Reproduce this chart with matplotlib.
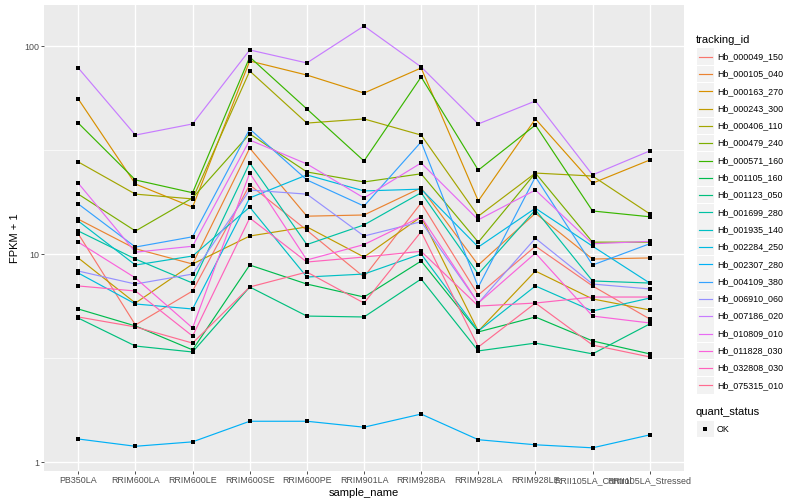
import matplotlib
matplotlib.use("Agg")
import matplotlib.pyplot as plt
from matplotlib.lines import Line2D
from matplotlib.patches import Rectangle
from matplotlib.ticker import FixedLocator, NullFormatter

plt.rcParams['font.family'] = ['Liberation Sans', 'DejaVu Sans']

samples = ["PB350LA", "RRIM600LA", "RRIM600LE", "RRIM600SE", "RRIM600PE",
           "RRIM901LA", "RRIM928BA", "RRIM928LA", "RRIM928LE",
           "RRII105LA_Control", "RRII105LA_Stressed"]

tracking_ids = ["Hb_000049_150", "Hb_000105_040", "Hb_000163_270", "Hb_000243_300",
                "Hb_000406_110", "Hb_000479_240", "Hb_000571_160", "Hb_001105_160",
                "Hb_001123_050", "Hb_001699_280", "Hb_001935_140", "Hb_002284_250",
                "Hb_002307_280", "Hb_004109_380", "Hb_006910_060", "Hb_007186_020",
                "Hb_010809_010", "Hb_011828_030", "Hb_032808_030", "Hb_075315_010"]

Hb_000049_150 = [12.5, 4.56, 6.64, 21.5, 13.0, 7.75, 17.6, 6.35, 10.9, 7.02, 4.87]
Hb_000105_040 = [14.7, 10.6, 8.95, 32.3, 15.2, 15.4, 20.8, 8.85, 15.7, 9.46, 9.57]
Hb_000163_270 = [55.6, 21.7, 16.8, 84.7, 72.5, 59.4, 78.4, 18.0, 44.6, 21.9, 28.3]
Hb_000243_300 = [9.57, 5.81, 8.95, 12.2, 13.5, 9.67, 15.1, 4.26, 8.28, 6.08, 5.38]
Hb_000406_110 = [27.7, 19.4, 18.4, 75.8, 42.6, 44.6, 37.3, 15.2, 24.5, 23.7, 15.6]
Hb_000479_240 = [19.4, 12.9, 18.6, 37.8, 24.8, 22.2, 24.3, 11.4, 24.5, 11.4, 11.4]
Hb_000571_160 = [42.6, 22.7, 19.7, 88.5, 49.8, 28.0, 71.0, 25.3, 41.7, 16.1, 15.1]
Hb_001105_160 = [5.44, 4.51, 3.46, 8.85, 7.17, 6.21, 9.25, 4.22, 4.98, 3.82, 3.31]
Hb_001123_050 = [4.92, 3.61, 3.38, 6.94, 5.03, 4.98, 7.58, 3.42, 3.73, 3.31, 4.61]
Hb_001699_280 = [12.9, 9.46, 7.25, 27.4, 11.1, 13.8, 19.7, 8.01, 16.3, 7.42, 7.25]
Hb_001935_140 = [14.4, 8.85, 9.78, 16.8, 7.75, 8.01, 10.0, 4.26, 7.02, 5.32, 6.14]
Hb_002284_250 = [8.10, 5.75, 5.44, 18.6, 24.0, 20.1, 20.5, 10.8, 16.6, 10.9, 7.25]
Hb_002307_280 = [1.29, 1.19, 1.25, 1.57, 1.57, 1.47, 1.70, 1.28, 1.21, 1.17, 1.35]
Hb_004109_380 = [17.4, 10.8, 12.1, 39.9, 22.7, 17.0, 34.6, 6.94, 23.5, 8.85, 11.2]
Hb_006910_060 = [8.28, 7.17, 8.01, 20.3, 19.4, 12.2, 14.3, 5.81, 11.9, 7.17, 6.79]
Hb_007186_020 = [78.4, 37.3, 42.2, 95.7, 82.9, 124.8, 79.3, 42.2, 54.4, 24.0, 31.3]
Hb_010809_010 = [21.9, 10.2, 10.9, 35.3, 27.1, 18.6, 27.4, 14.6, 20.3, 11.2, 11.5]
Hb_011828_030 = [11.4, 7.67, 4.41, 24.5, 9.36, 11.1, 15.1, 5.81, 10.1, 5.03, 4.66]
Hb_032808_030 = [7.02, 6.64, 4.03, 14.9, 9.15, 9.67, 10.3, 5.62, 5.81, 6.21, 6.21]
Hb_075315_010 = [4.98, 4.46, 3.73, 6.94, 8.19, 5.81, 12.8, 3.57, 5.81, 3.65, 3.20]

series = [Hb_000049_150, Hb_000105_040, Hb_000163_270, Hb_000243_300, Hb_000406_110,
          Hb_000479_240, Hb_000571_160, Hb_001105_160, Hb_001123_050, Hb_001699_280,
          Hb_001935_140, Hb_002284_250, Hb_002307_280, Hb_004109_380, Hb_006910_060,
          Hb_007186_020, Hb_010809_010, Hb_011828_030, Hb_032808_030, Hb_075315_010]

colors = ["#F8766D", "#EA8331", "#D89000", "#C09B00", "#A3A500", "#7CAE00", "#39B600",
          "#00BB4E", "#00BF7D", "#00C1A3", "#00BFC4", "#00BAE0", "#00B0F6", "#35A2FF",
          "#9590FF", "#C77CFF", "#E76BF3", "#FA62DB", "#FF62BC", "#FF6C90"]

W, H = 800, 500
fig = plt.figure(figsize=(8, 5), dpi=100)
L, R, T, B = 44, 684, 5, 471
ax = fig.add_axes([L / W, 1 - B / H, (R - L) / W, (B - T) / H])
ax.set_facecolor("#EBEBEB")
for s in ax.spines.values():
    s.set_visible(False)

xs = list(range(len(samples)))
for vals, col in zip(series, colors):
    ax.plot(xs, vals, color=col, lw=0.85, zorder=3, solid_capstyle='butt')
for vals in series:
    ax.plot(xs, vals, ls='none', marker='s', ms=3.0, color='black', mec='black', mew=0, zorder=4)

ax.set_yscale('log')
ax.set_ylim(10 ** (-9 / 208), 10 ** (457 / 208))
ax.set_xlim(-0.6, 10.6)
ax.yaxis.set_major_locator(FixedLocator([1, 10, 100]))
ax.set_yticklabels(["1", "10", "100"])
ax.yaxis.set_minor_locator(FixedLocator([10 ** 0.5, 10 ** 1.5]))
ax.yaxis.set_minor_formatter(NullFormatter())
ax.set_xticks(xs)
ax.set_xticklabels(samples)
ax.grid(True, which='major', color='white', lw=1.0, zorder=1)
ax.grid(True, which='minor', axis='y', color='white', lw=0.5, zorder=1)
ax.set_axisbelow(True)
ax.tick_params(axis='both', which='major', length=2.0, width=0.6, color='#333333',
               labelsize=6.4, labelcolor='#4D4D4D', pad=1.6)
ax.tick_params(axis='y', which='minor', length=0)
ax.set_xlabel("sample_name", fontsize=8.0, color='black', labelpad=2)
ax.set_ylabel("FPKM + 1", fontsize=8.0, color='black', labelpad=3)

# legends
def fx(x):
    return x / W
def fy(y):
    return 1 - y / H

fig.text(fx(696), fy(40), "tracking_id", fontsize=8.0, va='center', ha='left')
y0, dy = 56.7, 17.3
for i, (name, col) in enumerate(zip(tracking_ids, colors)):
    yc = y0 + i * dy
    fig.patches.append(Rectangle((fx(697), fy(yc + 8.3)), 16.6 / W, 16.6 / H,
                                 transform=fig.transFigure, facecolor='#F2F2F2',
                                 edgecolor='none'))
    fig.lines.append(Line2D([fx(699), fx(711.5)], [fy(yc), fy(yc)], color=col, lw=0.85,
                            transform=fig.transFigure))
    fig.text(fx(717), fy(yc), name, fontsize=6.4, va='center', ha='left')

fig.text(fx(696), fy(412), "quant_status", fontsize=8.0, va='center', ha='left')
fig.patches.append(Rectangle((fx(697), fy(429 + 8.3)), 16.6 / W, 16.6 / H,
                             transform=fig.transFigure, facecolor='#F2F2F2', edgecolor='none'))
fig.lines.append(Line2D([fx(705.3)], [fy(429)], marker='s', ms=3.0, color='black', mew=0,
                        transform=fig.transFigure))
fig.text(fx(717), fy(429), "OK", fontsize=6.4, va='center', ha='left')

fig.savefig("out.png", dpi=100, facecolor='white')
